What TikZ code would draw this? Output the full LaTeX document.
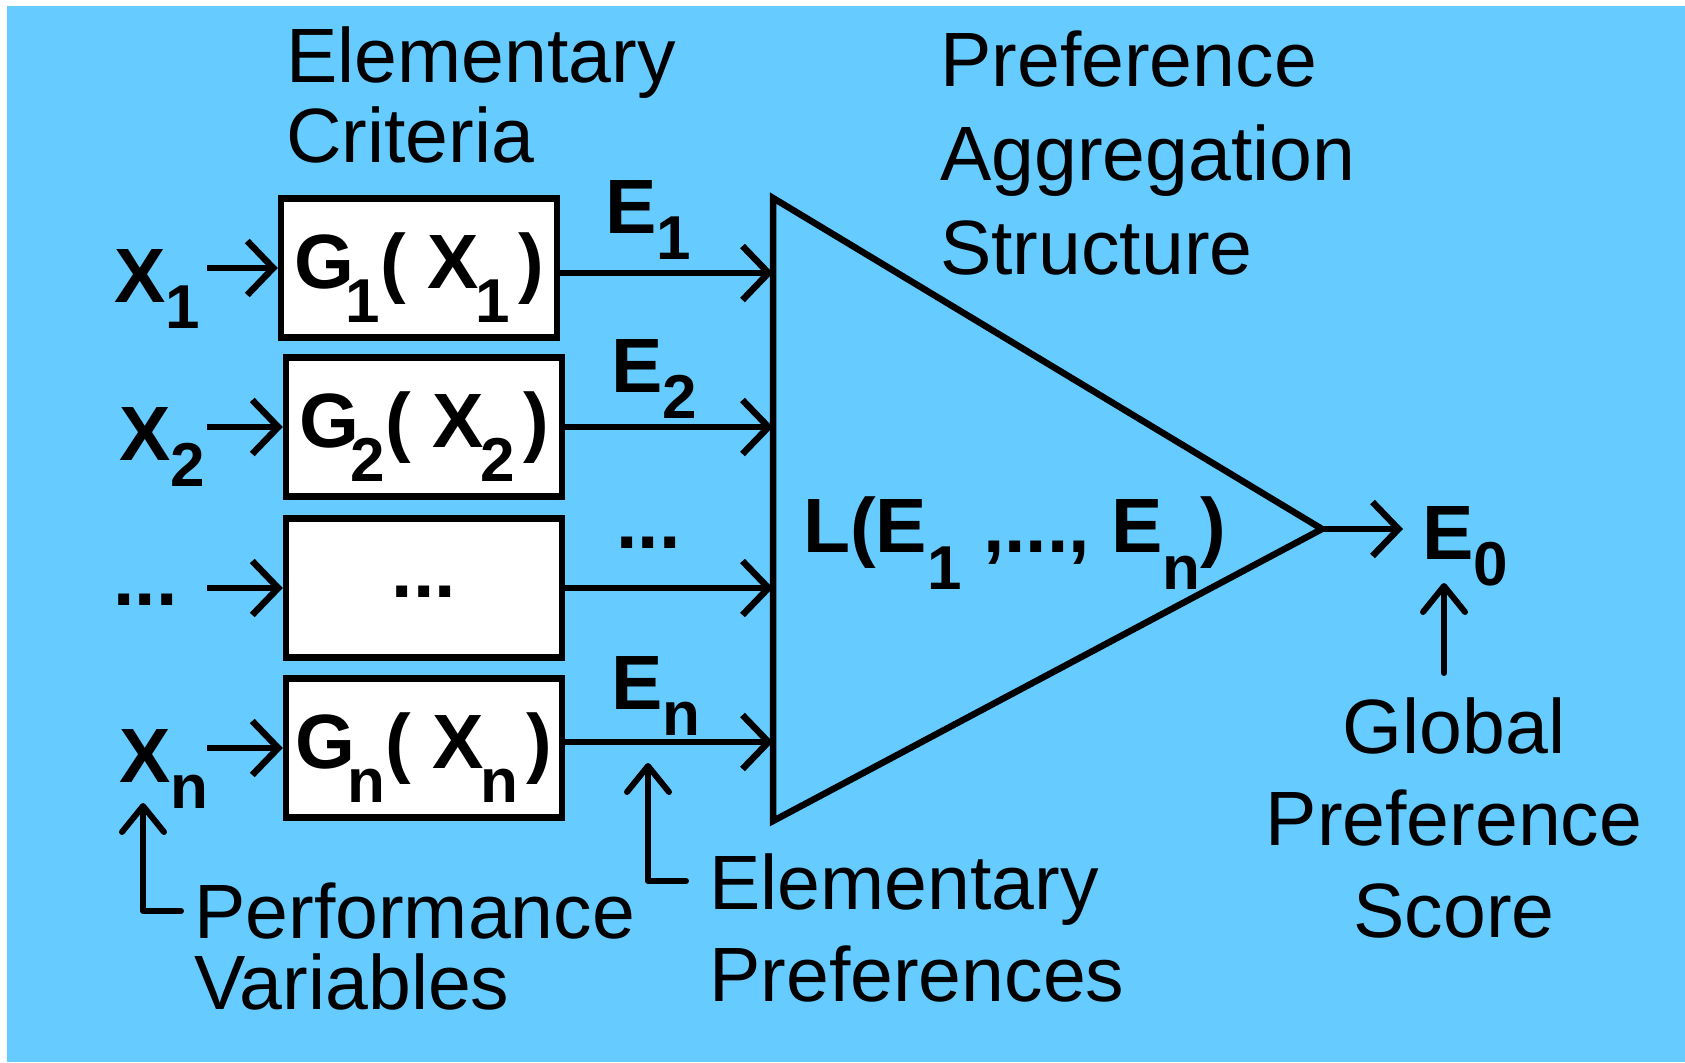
\documentclass[tikz,border=0pt]{standalone}
\usepackage{fontspec}
\setmainfont{Liberation Sans}
\usetikzlibrary{arrows.meta,calc}
\definecolor{skyblue}{HTML}{66CCFF}
\newcommand{\lo}[2][26pt]{\raisebox{-#1}{\fontsize{62pt}{62pt}\selectfont #2}}

\tikzset{
  txt/.style={font=\fontsize{77pt}{80pt}\selectfont, inner sep=0pt},
  sym/.style={font=\fontsize{77pt}{77pt}\selectfont\bfseries, inner sep=0pt},
  crit/.style={draw, fill=white, line width=6.5pt, minimum width=276pt, minimum height=139pt,
    inner sep=0pt, text height=74pt, text depth=34pt, font=\fontsize{77pt}{77pt}\selectfont\bfseries},
  flow/.style={line width=6.5pt, -{Straight Barb[length=26pt,width=54pt]}},
  note/.style={line width=6pt, line cap=round, line join=round, -{Straight Barb[length=26pt,width=42pt,round]}},
}

\begin{document}
\begin{tikzpicture}[x=1pt, y=-1pt]
  \useasboundingbox (0,0) rectangle (1685,1062);
  \fill[white] (0,0) rectangle (1685,1062);
  \fill[skyblue] (7,6) rectangle (1685,1062);

  % elementary criteria
  \node[crit] (b1) at (419,268) {G\kern-8pt\lo[34pt]{1}( X\kern-3pt\lo[34pt]{1}\kern8pt)};
  \node[crit] (b2) at (424,427) {G\kern-8pt\lo[34pt]{2}( X\kern-3pt\lo[34pt]{2}\kern8pt)};
  \node[crit, text height=18pt, text depth=0pt] (b3) at (424,588) {...};
  \node[crit] (b4) at (424,748) {G\kern-8pt\lo[34pt]{n}( X\kern-3pt\lo[34pt]{n}\kern8pt)};

  % performance variables
  \node[sym, anchor=base west] (x1) at (114,302) {X\lo{1}};
  \node[sym, anchor=base west] (x2) at (119,460) {X\lo{2}};
  \node[sym, anchor=base west] (xd) at (113,605) {...};
  \node[sym, anchor=base west] (xn) at (119,782) {X\lo{n}};

  \coordinate (instart) at (207,0);
  \foreach \b in {b1,b2,b3,b4}
    \draw[flow] (\b.west -| instart) -- (\b.west);

  % aggregation structure
  \coordinate (tl) at (773,198);
  \coordinate (bl) at (773,821);
  \coordinate (apex) at (1322,529);
  \draw[line width=6.5pt] (tl) -- (apex) -- (bl) -- cycle;
  \node[sym, anchor=base west] (agg) at (803,552) {L(E\lo[37pt]{1} ,..., E\lo[37pt]{n})};

  \draw[flow] ($(b1.east)+(0,5)$) -- ($(b1.east -| tl)+(0,5)$);
  \draw[flow] (b2.east) -- (b2.east -| tl);
  \draw[flow] (b3.east) -- (b3.east -| tl);
  \draw[flow] ($(b4.east)+(0,-6)$) -- ($(b4.east -| tl)+(0,-6)$);

  \node[sym, anchor=base west] (e1) at (605,233) {E\lo{1}};
  \node[sym, anchor=base west] (e2) at (611,392) {E\lo{2}};
  \node[sym, anchor=base west] (ed) at (616,548) {...};
  \node[sym, anchor=base west] (en) at (611,709) {E\lo{n}};

  \node[sym, anchor=base west] (e0) at (1422,559) {E\lo{0}};
  \draw[flow] (apex) -- ($(apex -| e0.west)+(-19,0)$);

  % captions
  \node[txt, anchor=north west, align=left] (ec) at (286,27) {Elementary\\Criteria};
  \node[txt, anchor=north west, align=left, font=\fontsize{77pt}{94pt}\selectfont] (pas) at (940,31) {Preference\\Aggregation\\Structure};
  \node[txt, anchor=north, align=center, font=\fontsize{77pt}{92pt}\selectfont] (gps) at (1454,697) {Global\\Preference\\Score};
  \node[txt, anchor=north west, align=left, font=\fontsize{77pt}{71pt}\selectfont] (pv) at (194,883) {Performance\\Variables};
  \node[txt, anchor=north west, align=left, font=\fontsize{77pt}{92pt}\selectfont] (ep) at (709,853) {Elementary\\Preferences};

  \coordinate (pvtip) at (143,803);
  \coordinate (pvend) at (181,911);
  \draw[note] (pvend) -| (pvtip);
  \coordinate (eptip) at (648,763);
  \coordinate (epend) at (686,881);
  \draw[note] (epend) -| (eptip);
  \coordinate (gtip) at (1444,583);
  \coordinate (gtail) at (1444,673);
  \draw[note] (gtail) -- (gtip);
\end{tikzpicture}
\end{document}
